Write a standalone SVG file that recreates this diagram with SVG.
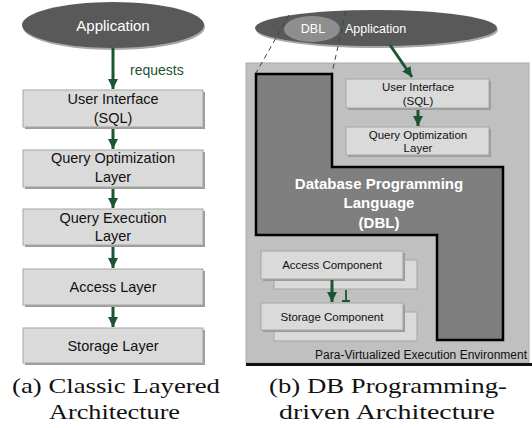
<svg xmlns="http://www.w3.org/2000/svg" width="532" height="428" viewBox="0 0 532 428">
<defs>
<style>
.box{fill:#dadada;stroke:#a3a8a3;stroke-width:1}
.shadow{fill:#9c9c9c}
.t{font-family:"Liberation Sans",Arial,sans-serif;fill:#111;text-anchor:middle}
.tl{font-size:14.5px}
.ts{font-size:11.5px}
.w{font-family:"Liberation Sans",Arial,sans-serif;fill:#fff;text-anchor:middle}
.cap{font-family:"Liberation Serif","Times New Roman",serif;font-size:22px;fill:#111;text-anchor:middle}
.arr{stroke:#1d5530;stroke-width:3;fill:none;marker-end:url(#ah)}
</style>
<marker id="ah" markerUnits="userSpaceOnUse" markerWidth="12" markerHeight="12" refX="10" refY="5" orient="auto">
<path d="M0,0 L10,5 L0,10 z" fill="#1d5530"/>
</marker>
</defs>

<!-- Left: classic layered -->
<g id="app-left">
<ellipse cx="114" cy="27" rx="91" ry="23" fill="#a8a8a8"/>
<ellipse cx="113" cy="25" rx="91" ry="23" fill="#595959"/>
<text class="w" x="113" y="31" font-size="15">Application</text>
</g>
<g id="ui-left">
<rect class="shadow" x="25" y="92" width="180" height="37"/>
<rect class="box" x="23" y="90" width="180" height="37"/>
<text class="t tl" x="113" y="104">User Interface</text>
<text class="t tl" x="113" y="123">(SQL)</text>
</g>
<g id="qo-left">
<rect class="shadow" x="25" y="152" width="180" height="37"/>
<rect class="box" x="23" y="150" width="180" height="37"/>
<text class="t tl" x="113" y="163">Query Optimization</text>
<text class="t tl" x="113" y="182">Layer</text>
</g>
<g id="qe-left">
<rect class="shadow" x="25" y="211" width="180" height="36"/>
<rect class="box" x="23" y="209" width="180" height="36"/>
<text class="t tl" x="113" y="223">Query Execution</text>
<text class="t tl" x="113" y="241">Layer</text>
</g>
<g id="access-left">
<rect class="shadow" x="25" y="271" width="180" height="36"/>
<rect class="box" x="23" y="269" width="180" height="36"/>
<text class="t tl" x="113" y="292">Access Layer</text>
</g>
<g id="storage-left">
<rect class="shadow" x="25" y="330" width="180" height="35"/>
<rect class="box" x="23" y="328" width="180" height="35"/>
<text class="t tl" x="113" y="351">Storage Layer</text>
</g>

<!-- Right: DB programming-driven -->
<g id="env">
<rect x="246" y="63" width="283" height="300" fill="#c0c0c0" stroke="#a9a9a9" stroke-width="1"/>
<rect x="246" y="363" width="286" height="3" fill="#111"/>
<text class="t" x="527" y="359" font-size="12" style="text-anchor:end">Para-Virtualized Execution Environment</text>
</g>
<g id="dbl">
<path d="M256,74 L332,74 L332,167 L503,167 L503,340 L437,340 L437,235 L256,235 Z" fill="#7f7f7f" stroke="#000" stroke-width="2.5"/>
<text class="w" x="379" y="189" font-size="15" font-weight="bold" fill="#f2f2f2">Database Programming</text>
<text class="w" x="379" y="208" font-size="15" font-weight="bold" fill="#f2f2f2">Language</text>
<text class="w" x="379" y="228" font-size="15" font-weight="bold" fill="#f2f2f2">(DBL)</text>
</g>
<g id="app-right">
<ellipse cx="377" cy="30" rx="121" ry="18" fill="#a8a8a8"/>
<ellipse cx="376" cy="28" rx="121" ry="18" fill="#595959"/>
<ellipse cx="312" cy="29" rx="28" ry="13" fill="#8e8e8e"/>
<text class="w" x="313" y="33" font-size="12.5">DBL</text>
<text class="w" x="345" y="33" font-size="12.5" style="text-anchor:start">Application</text>
</g>
<g id="ui-right">
<rect class="shadow" x="348" y="81" width="143" height="29"/>
<rect class="box" x="346" y="79" width="143" height="29"/>
<text class="t ts" x="418" y="91">User Interface</text>
<text class="t ts" x="418" y="105">(SQL)</text>
</g>
<g id="qo-right">
<rect class="shadow" x="348" y="129" width="143" height="28"/>
<rect class="box" x="346" y="127" width="143" height="28"/>
<text class="t ts" x="418" y="139">Query Optimization</text>
<text class="t ts" x="418" y="152">Layer</text>
</g>
<g id="access-right">
<rect class="box" x="274" y="260" width="143" height="29"/>
<rect class="shadow" x="263" y="253" width="142" height="28"/>
<rect class="box" x="261" y="251" width="142" height="28"/>
<text class="t ts" x="332" y="268.5">Access Component</text>
</g>
<g id="storage-right">
<rect class="box" x="274" y="312" width="143" height="29"/>
<rect class="shadow" x="263" y="305" width="142" height="27"/>
<rect class="box" x="261" y="303" width="142" height="27"/>
<text class="t ts" x="332" y="320.5">Storage Component</text>
</g>

<g id="connectors">
<line class="arr" x1="113" y1="48" x2="113" y2="89"/>
<text x="130" y="75" font-family="'Liberation Sans',Arial,sans-serif" font-size="14" fill="#1d5530">requests</text>
<line class="arr" x1="113" y1="129" x2="113" y2="149"/>
<line class="arr" x1="113" y1="189" x2="113" y2="208"/>
<line class="arr" x1="113" y1="247" x2="113" y2="268"/>
<line class="arr" x1="113" y1="307" x2="113" y2="327"/>
<line class="arr" x1="390" y1="45" x2="412" y2="77"/>
<line class="arr" x1="418" y1="110" x2="418" y2="126"/>
<line class="arr" x1="332" y1="280" x2="332" y2="302"/>
<path d="M346,290 L346,301 M342,301 L350,301" stroke="#1d5530" stroke-width="1.8" fill="none"/>
<line x1="289" y1="15" x2="256" y2="73" stroke="#1d5530" stroke-width="1" stroke-dasharray="5,4"/>
<line x1="346" y1="11" x2="332" y2="73" stroke="#1d5530" stroke-width="1" stroke-dasharray="5,4"/>
</g>

<g id="captions">
<text class="cap" x="116" y="393" textLength="208" lengthAdjust="spacingAndGlyphs">(a) Classic Layered</text>
<text class="cap" x="114.5" y="419" textLength="131" lengthAdjust="spacingAndGlyphs">Architecture</text>
<text class="cap" x="388" y="393" textLength="238" lengthAdjust="spacingAndGlyphs">(b) DB Programming-</text>
<text class="cap" x="387" y="419" textLength="216" lengthAdjust="spacingAndGlyphs">driven Architecture</text>
</g>
</svg>
